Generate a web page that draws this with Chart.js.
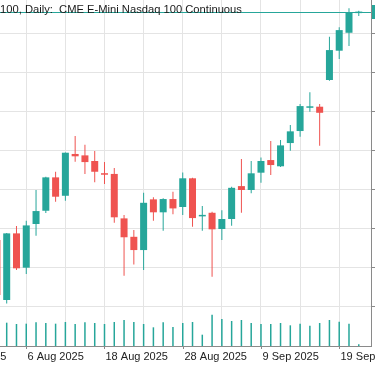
<!DOCTYPE html>
<html>
<head>
<meta charset="utf-8">
<script src="https://cdn.jsdelivr.net/npm/chart.js@4.4.1/dist/chart.umd.min.js"></script>
<style>
  html, body { margin: 0; padding: 0; background: #fff; }
  #wrap { width: 375px; height: 366px; }
</style>
</head>
<body>
<div id="wrap"><canvas id="c"></canvas></div>
<script>
/* NQ daily candles, Aug-Sep 2025 */

var title = '100, Daily:  CME E-Mini Nasdaq 100 Continuous';

var dates = ['1 Aug', '4 Aug', '5 Aug', '6 Aug', '7 Aug', '8 Aug', '11 Aug', '12 Aug', '13 Aug', '14 Aug', '15 Aug',
  '18 Aug', '19 Aug', '20 Aug', '21 Aug', '22 Aug', '25 Aug', '26 Aug', '27 Aug', '28 Aug', '29 Aug',
  '1 Sep', '2 Sep', '3 Sep', '4 Sep', '5 Sep', '8 Sep', '9 Sep', '10 Sep', '11 Sep', '12 Sep',
  '15 Sep', '16 Sep', '17 Sep', '18 Sep', '19 Sep', '22 Sep', '23 Sep'];

var opens = [23176, 22792, 23219, 22999, 23279, 23364, 23578, 23460, 23728, 23719, 23683, 23604, 23600, 23315, 23197,
  23112, 23437, 23354, 23439, 23388, 23572, 23328, 23351, 23247, 23311, 23522, 23497, 23608, 23689, 23649, 23798,
  23875, 24024, 24031, 24202, 24390, 24505, 24631];
var highs = [23202, 23222, 23266, 23300, 23497, 23582, 23614, 23738, 23843, 23787, 23747, 23676, 23638, 23337, 23240,
  23479, 23450, 23444, 23486, 23610, 23575, 23394, 23358, 23368, 23518, 23695, 23683, 23706, 23811, 23817, 23913,
  24048, 24123, 24048, 24479, 24540, 24662, 24646];
var lows = [22804, 22770, 22984, 22958, 23204, 23349, 23422, 23428, 23678, 23599, 23546, 23535, 23287, 22947, 23020,
  22984, 23300, 23236, 23341, 23337, 23262, 23236, 22941, 23176, 23268, 23351, 23476, 23544, 23593, 23645, 23749,
  23838, 23999, 23781, 24197, 24336, 24420, 24612];
var closes = [22824, 23219, 22995, 23270, 23362, 23578, 23454, 23736, 23713, 23676, 23614, 23595, 23322, 23194, 23112,
  23415, 23354, 23439, 23379, 23572, 23317, 23337, 23245, 23311, 23511, 23497, 23604, 23683, 23657, 23783, 23873,
  24035, 24031, 23992, 24394, 24522, 24633, 24635];
// volume, thousands of contracts
var volumes = [575, 583, 550, 558, 592, 575, 558, 600, 550, 592, 575, 550, 600, 650, 600, 550, 467, 592, 475, 575,
  600, 283, 783, 675, 625, 650, 575, 550, 550, 575, 517, 558, 508, 575, 650, 608, 558, 42];

var tickLabels = ['25 Jul 2025', '6 Aug 2025', '18 Aug 2025', '28 Aug 2025', '9 Sep 2025', '19 Sep 2025'];
var priceTicks = [22750, 23000, 23250, 23500, 23750, 24000, 24250, 24500];

var UP = '#26a69a', DOWN = '#ef5350';
var labelAnchor = dates.indexOf('6 Aug');   // second label sits on 6 Aug, one label every 8 bars

var colors = closes.map(function (c, i) { return c >= opens[i] ? UP : DOWN; });
var wickData = dates.map(function (d, i) { return { x: i, y: [lows[i], highs[i]] }; });
var bodyData = dates.map(function (d, i) { return { x: i, y: [opens[i], closes[i]] }; });
var volData = dates.map(function (d, i) { return { x: i, y: volumes[i] }; });

var overlay = {
  id: 'overlay',
  beforeDatasetsDraw: function (chart) {
    var ctx = chart.ctx, a = chart.chartArea, ys = chart.scales.y;
    var py = Math.round(ys.getPixelForValue(closes[closes.length - 1])) + 0.5;
    ctx.save();
    ctx.strokeStyle = UP; ctx.lineWidth = 1;
    ctx.beginPath(); ctx.moveTo(a.left, py); ctx.lineTo(a.right, py); ctx.stroke();
    ctx.fillStyle = UP;
    ctx.fillRect(a.right + 1, py - 7.5, chart.width - a.right, 14);
    ctx.restore();
  },
  afterDraw: function (chart) {
    var ctx = chart.ctx, a = chart.chartArea, xs = chart.scales.x;
    ctx.save();
    ctx.font = '11px "Liberation Sans"';
    ctx.fillStyle = '#222';
    ctx.strokeStyle = '#8a8a8a';
    ctx.lineWidth = 1;
    tickLabels.forEach(function (t, k) {
      var px = Math.round(xs.getPixelForValue(labelAnchor + (k - 1) * 8)) + 0.5;
      ctx.beginPath(); ctx.moveTo(px, a.bottom); ctx.lineTo(px, a.bottom + 3); ctx.stroke();
      ctx.fillText(t, px + 1, a.bottom + 14);
    });
    ctx.font = '11.2px "Liberation Sans"';
    ctx.fillStyle = '#1a1a1a';
    ctx.fillText(title, 0, 12.5);
    ctx.restore();
  }
};

new Chart(document.getElementById('c'), {
  type: 'bar',
  data: {
    datasets: [
      { data: volData, yAxisID: 'yv', backgroundColor: UP, grouped: false, maxBarThickness: 1.5, order: 3 },
      { data: wickData, backgroundColor: colors, grouped: false, maxBarThickness: 1, order: 2 },
      { data: bodyData, backgroundColor: colors, grouped: false, maxBarThickness: 7, minBarLength: 1.5, order: 1 }
    ]
  },
  options: {
    responsive: true, maintainAspectRatio: false, animation: false,
    layout: { padding: { top: 0, right: 0, bottom: 20, left: 0 } },
    plugins: { legend: { display: false }, tooltip: { enabled: false } },
    scales: {
      x: {
        type: 'linear', min: 0.315, max: 38.25, offset: false,
        afterBuildTicks: function (s) {
          var t = [];
          for (var v = labelAnchor - 8; v <= s.max; v += 4) if (v >= s.min) t.push({ value: v });
          s.ticks = t;
        },
        grid: { color: '#e4e4e4', borderDash: [2, 2], drawTicks: false, offset: false },
        border: { display: true, color: '#8a8a8a' },
        ticks: { display: false }
      },
      y: {
        position: 'right', min: 22497, max: 24715,
        afterBuildTicks: function (s) { s.ticks = priceTicks.map(function (v) { return { value: v }; }); },
        grid: { color: '#e4e4e4', borderDash: [2, 2], drawTicks: true, tickLength: 4, tickColor: '#8a8a8a', tickBorderDash: [] },
        border: { display: true, color: '#8a8a8a' },
        ticks: { display: false }
      },
      yv: { display: false, min: 0, max: 8650 }
    }
  },
  plugins: [overlay]
});
</script>
</body>
</html>
